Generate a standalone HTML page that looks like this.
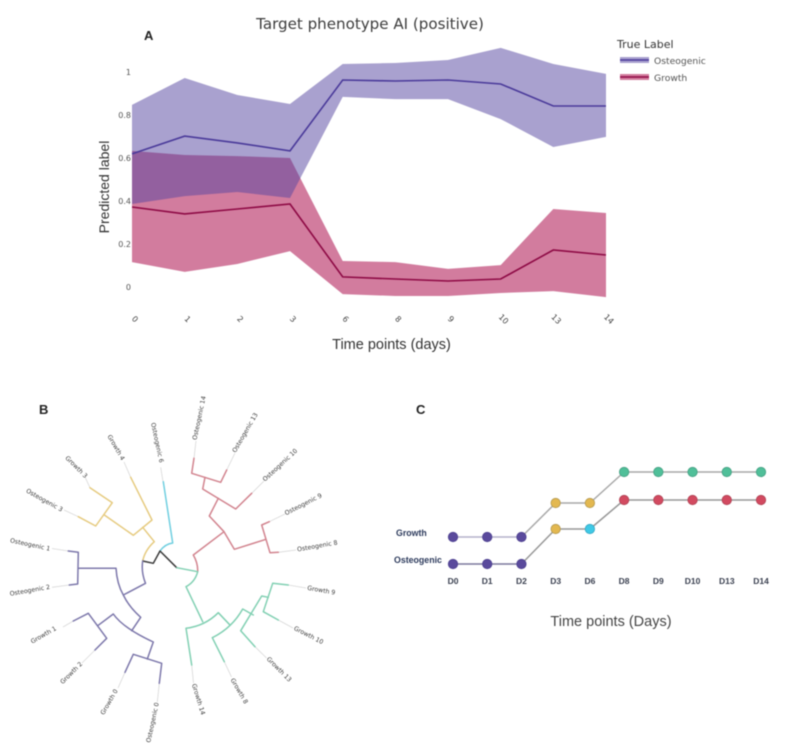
<!DOCTYPE html>
<html lang="en">
<head>
<meta charset="utf-8">
<title>Target phenotype AI (positive)</title>
<style>
html,body{margin:0;padding:0;background:#fff;width:790px;height:752px;overflow:hidden}
svg{display:block;filter:blur(.5px)}
.dv{font-family:"DejaVu Sans","Liberation Sans",sans-serif}
.ls{font-family:"Liberation Sans",sans-serif}
.leaf{font-family:"DejaVu Sans","Liberation Sans",sans-serif;font-size:6.2px;fill:#3c3c3c;dominant-baseline:central}
.tip{fill:none;stroke:#d8d8d8;stroke-width:.8}
.br{fill:none;stroke-width:1.5;stroke-linejoin:round;stroke-linecap:round}
.yel{stroke:#e6cb80}.cya{stroke:#70cfe0}.pur{stroke:#7d78ab}.blk{stroke:#3a3a3a}.red{stroke:#d2848f}.grn{stroke:#82d0b3}
</style>
</head>
<body>
<svg id="fig" xmlns="http://www.w3.org/2000/svg" width="790" height="752" viewBox="0 0 790 752">
  <rect width="790" height="752" fill="#fff"/>

  <g id="panel-a">
    <text class="dv" x="370" y="29" font-size="15.100" fill="#3d3d3d" text-anchor="middle">Target phenotype AI (positive)</text>
    <text class="ls" x="144" y="40" font-size="13" font-weight="bold" fill="#222">A</text>
    <text class="ls" transform="translate(109,187) rotate(-90)" font-size="14" fill="#333" text-anchor="middle">Predicted label</text>
    <text class="ls" x="391.500" y="349" font-size="14.500" fill="#333" text-anchor="middle">Time points (days)</text>
    <g>
      <text class="dv" x="617" y="48" font-size="11" fill="#333">True Label</text>
      <g>
        <rect x="620" y="57" width="29" height="6" fill="#a9a1cf"/>
        <line x1="620" x2="649" y1="60" y2="60" stroke="#4a3a9a" stroke-width="1.5"/>
        <text class="dv" x="654" y="64" font-size="9.200" fill="#555">Osteogenic</text>
      </g>
      <g>
        <rect x="620" y="74" width="29" height="6" fill="#d27c9e"/>
        <line x1="620" x2="649" y1="77" y2="77" stroke="#8e0a45" stroke-width="1.5"/>
        <text class="dv" x="654" y="81" font-size="9.200" fill="#555">Growth</text>
      </g>
    </g>
  </g>

  <g id="panel-b">
    <text class="ls" x="39" y="414" font-size="13" font-weight="bold" fill="#222">B</text>

    <g>
      <path class="tip" d="M78.300 516.700L64 510M90 487.700L85 477M130.700 477.300L124 462M160.700 467.300L163.300 483.300M68.300 551L52 548.500M69.300 585L52 587.300M73.300 621L63 627M95 650L82 663M125 672.300L118 688M159.300 683.300L157.300 702M194 458.300L196 441M226.700 470L235 453M251.700 493.300L264 481M269.300 521.700L285 514M278.300 552.300L296 550M288.300 585L306 588M278.300 620L293 628M255 646.700L266.500 658M224.300 661.700L231.500 677M191.700 665L193.500 683"/>
    </g>

    <g>
      <path class="br yel" d="M78.300 516.700L95.700 526L112.300 502.700L90 487.700M104 514.700L133.300 535.300L152 520L130.700 477.300M142.700 527.300L154.300 541.700Q145 550 142.700 561"/>
    </g>
    <g>
      <path class="br cya" d="M163.300 481.700L172.700 543Q165 544 160 551"/>
    </g>
    <g>
      <path class="br blk" d="M142.700 561L153.300 563.300L160 551L176.700 567.700"/>
    </g>
    <g>
      <path class="br pur" d="M142.700 561Q141 572 145.500 583.300L123.300 595M68.300 551L78.300 552.300L77.700 584L69.300 585M78 568.300L116 568.300Q117 584 123.300 595Q129 607 140.700 617.300L131.700 630.700M113.300 614Q123 628 153.300 642L147.300 659M113.300 614L97.700 625.700M73.300 621L88.300 613.300L106.700 638.300L95 650M125 672.300L133.300 654.300L161.700 663.300L159.300 683.300"/>
    </g>
    <g>
      <path class="br red" d="M194 458.300L191.700 473.300L220.700 482.300L226.700 470M205 477.300L202.700 489L235.700 509L251.700 493.300M218.300 498.300L209.300 516L224 531.700L234.300 549.300L266 539.300M261.700 525L270 552.700L278.300 552.300M261.700 525L269.300 521.700M224 531.700L193.300 555Q198 563 197.700 571.700"/>
    </g>
    <g>
      <path class="br grn" d="M176.700 567.700L197.700 571.700Q195 582 186 586.700L202.700 621.700M186 628.300Q205 626 218.300 612.700L229.300 624.300M186 628.300L191.700 665M224.300 661.700L212.300 637.700Q232 628 242.700 609L253.300 615M255 646.700L240.700 630.700L261.700 596L268.300 597.300M288.300 585L272.700 583.300L263.300 611.700L278.300 620"/>
    </g>

    <g>
      <text class="leaf" text-anchor="end" transform="translate(62,510.500) rotate(29)">Osteogenic 3</text>
      <text class="leaf" text-anchor="end" transform="translate(86,477.300) rotate(45)">Growth 3</text>
      <text class="leaf" text-anchor="end" transform="translate(122.700,460) rotate(60)">Growth 4</text>
      <text class="leaf" text-anchor="end" transform="translate(161,462.700) rotate(78)">Osteogenic 6</text>
      <text class="leaf" text-anchor="end" transform="translate(50,549.300) rotate(12)">Osteogenic 1</text>
      <text class="leaf" text-anchor="end" transform="translate(50,587.300) rotate(-10)">Osteogenic 2</text>
      <text class="leaf" text-anchor="end" transform="translate(56,628.300) rotate(-30)">Growth 1</text>
      <text class="leaf" text-anchor="end" transform="translate(81.700,663.300) rotate(-45)">Growth 2</text>
      <text class="leaf" text-anchor="end" transform="translate(116.700,690) rotate(-60)">Growth 0</text>
      <text class="leaf" text-anchor="end" transform="translate(157.300,702.700) rotate(-78)">Osteogenic 0</text>
      <text class="leaf" transform="translate(195,440) rotate(-78)">Osteogenic 14</text>
      <text class="leaf" transform="translate(234.300,452.300) rotate(-60)">Osteogenic 13</text>
      <text class="leaf" transform="translate(264,480.700) rotate(-43)">Osteogenic 10</text>
      <text class="leaf" transform="translate(285.300,514) rotate(-27)">Osteogenic 9</text>
      <text class="leaf" transform="translate(297.300,550) rotate(-10)">Osteogenic 8</text>
      <text class="leaf" transform="translate(307.300,588.300) rotate(10)">Growth 9</text>
      <text class="leaf" transform="translate(294,628.300) rotate(27)">Growth 10</text>
      <text class="leaf" transform="translate(267.300,658.300) rotate(45)">Growth 13</text>
      <text class="leaf" transform="translate(231.700,679) rotate(60)">Growth 8</text>
      <text class="leaf" transform="translate(193.300,684) rotate(73)">Growth 14</text>
    </g>
  </g>

  <g id="panel-c">
    <text class="ls" x="416" y="414" font-size="13" font-weight="bold" fill="#222">C</text>
    <text class="ls" x="396" y="536" font-size="8.800" font-weight="bold" fill="#2c3a5c">Growth</text>
    <text class="ls" x="394" y="563" font-size="8.800" font-weight="bold" fill="#2c3a5c">Osteogenic</text>
    <text class="ls" x="611" y="626" font-size="14.500" fill="#444" text-anchor="middle">Time points (Days)</text>
  </g>
</svg>

<script>
// Panel A data
const timePoints = ["0", "1", "2", "3", "6", "8", "9", "10", "13", "14"];
const yTicks = [0, 0.2, 0.4, 0.6, 0.8, 1];
const yTickLabels = ["0", "0.2", "0.4", "0.6", "0.8", "1"];
const osteogenicMean = [0.619, 0.702, 0.670, 0.633, 0.963, 0.958, 0.963, 0.944, 0.842, 0.842];
const osteogenicUpper = [0.847, 0.972, 0.893, 0.851, 1.037, 1.042, 1.056, 1.112, 1.037, 0.991];
const osteogenicLower = [0.386, 0.423, 0.442, 0.414, 0.884, 0.874, 0.874, 0.781, 0.651, 0.698];
const growthMean = [0.372, 0.340, 0.363, 0.386, 0.047, 0.037, 0.028, 0.037, 0.172, 0.149];
const growthUpper = [0.633, 0.614, 0.609, 0.600, 0.121, 0.116, 0.084, 0.102, 0.363, 0.344];
const growthLower = [0.116, 0.070, 0.107, 0.167, -0.033, -0.042, -0.042, -0.028, -0.019, -0.047];

// Panel C data
const dayLabels = ["D0", "D1", "D2", "D3", "D6", "D8", "D9", "D10", "D13", "D14"];
const growthStage = [2.7, 2.7, 2.7, 6.1, 6.1, 9.2, 9.2, 9.2, 9.2, 9.2];
const osteogenicStage = [0, 0, 0, 3.5, 3.5, 6.4, 6.4, 6.4, 6.4, 6.4];
const growthCluster = ["purple", "purple", "purple", "yellow", "yellow", "green", "green", "green", "green", "green"];
const osteogenicCluster = ["purple", "purple", "purple", "yellow", "cyan", "red", "red", "red", "red", "red"];

const NS = "http://www.w3.org/2000/svg";
const panelA = document.getElementById("panel-a");
const panelC = document.getElementById("panel-c");

function make(tag, parent, props) {
  const el = document.createElementNS(NS, tag);
  for (const k in props) el.setAttribute(k, props[k]);
  parent.appendChild(el);
  return el;
}

// Panel A axes
function xA(i) { return 132 + i * (606 - 132) / (timePoints.length - 1); }
function yA(v) { return 287 - v * 215; }

function linePath(values) {
  return values.map(function (v, i) { return (i ? "L" : "M") + xA(i).toFixed(1) + " " + yA(v).toFixed(1); }).join("");
}
function bandPath(upper, lower) {
  let d = linePath(upper);
  for (let i = lower.length - 1; i >= 0; i--) d += "L" + xA(i).toFixed(1) + " " + yA(lower[i]).toFixed(1);
  return d + "Z";
}

const growthBand = make("path", panelA, { d: bandPath(growthUpper, growthLower), fill: "rgb(176,25,85)", "fill-opacity": 0.57 });



const osteogenicBand = make("path", panelA, { d: bandPath(osteogenicUpper, osteogenicLower), fill: "rgb(83,68,160)", "fill-opacity": 0.5 });



const growthLine = make("path", panelA, { d: linePath(growthMean), fill: "none", stroke: "#8e0a45", "stroke-width": 1.6 });



const osteogenicLine = make("path", panelA, { d: linePath(osteogenicMean), fill: "none", stroke: "#4a3a9a", "stroke-width": 1.6 });



yTicks.forEach(function (v, i) {
  const t = make("text", panelA, { x: 131, y: yA(v) + 3, "font-size": 8, fill: "#555", "text-anchor": "end", "class": "dv" });
  
  
  t.textContent = yTickLabels[i];
});

timePoints.forEach(function (label, i) {
  const t = make("text", panelA, { transform: "translate(" + (xA(i) + 1) + ",321) rotate(45)", "font-size": 8, fill: "#444", "text-anchor": "middle", "class": "dv" });
  
  
  t.textContent = label;
});

// Panel C axes
const clusterFill = { purple: "#5a4a9c", yellow: "#e3b850", cyan: "#3fc9e6", green: "#50bf99", red: "#d24a60" };
const clusterEdge = { purple: "#4d4090", yellow: "#b59a50", cyan: "#35a8c4", green: "#45a083", red: "#b04355" };
function xC(i) { return 453 + i * (761 - 453) / (dayLabels.length - 1); }
function yC(stage) { return 564 - stage * 10; }

function drawRow(stages, clusters, rowName, earlyColor, lateColor) {
  stages.forEach(function (s, i) {
    if (i === 0) return;
    const seg = make("line", panelC, { x1: xC(i - 1), y1: yC(stages[i - 1]), x2: xC(i), y2: yC(s), stroke: i < 3 ? earlyColor : lateColor, "stroke-width": 1.5 });
    
    
  });
  stages.forEach(function (s, i) {
    const dot = make("circle", panelC, { cx: xC(i), cy: yC(s), r: 4.7, fill: clusterFill[clusters[i]], stroke: clusterEdge[clusters[i]], "stroke-width": 0.8 });
    
    
  });
}
drawRow(growthStage, growthCluster, "growth", "#b3b0cb", "#a8a8a8");
drawRow(osteogenicStage, osteogenicCluster, "osteogenic", "#7b789c", "#989898");

dayLabels.forEach(function (label, i) {
  const t = make("text", panelC, { x: xC(i), y: 584, "font-size": 8.5, "font-weight": "bold", fill: "#3a4050", "text-anchor": "middle", "class": "ls" });
  
  
  t.textContent = label;
});
</script>
</body>
</html>
